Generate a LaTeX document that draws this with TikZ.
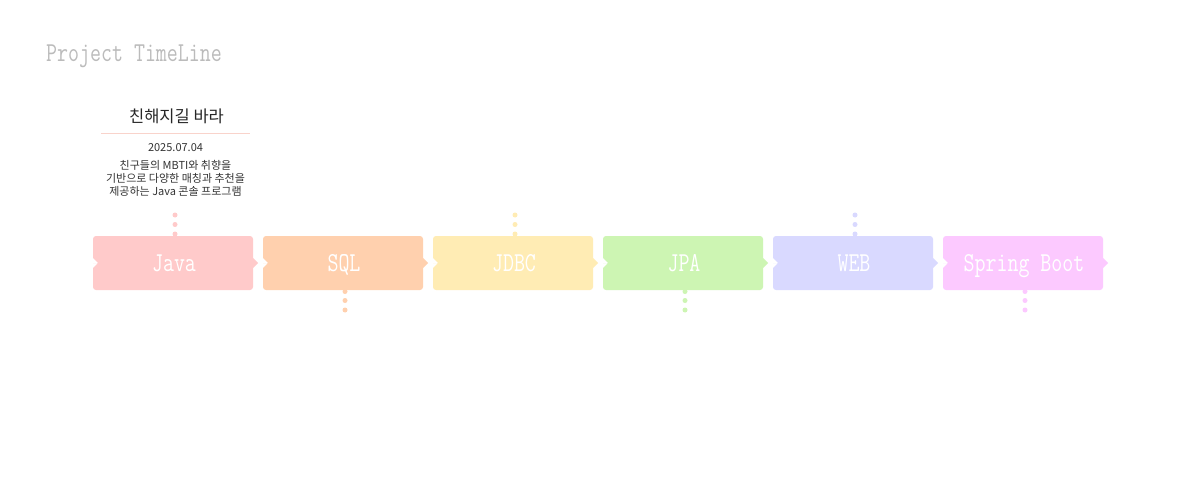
\documentclass[tikz,border=0pt]{standalone}
\usepackage{fontspec}
\newfontfamily\kr{Noto Sans CJK KR}
\definecolor{titlegray}{HTML}{BBBBBB}
\definecolor{cjava}{HTML}{FFCACA}
\definecolor{csql}{HTML}{FFD0AE}
\definecolor{cjdbc}{HTML}{FFECB4}
\definecolor{cjpa}{HTML}{CDF5B3}
\definecolor{cweb}{HTML}{D9D9FF}
\definecolor{cspring}{HTML}{FCC9FF}
\definecolor{linepink}{HTML}{F9D3CB}
\definecolor{txt}{HTML}{333333}
\newcommand{\slab}[1]{\scalebox{0.82}[1.05]{\fontsize{26}{26}\selectfont\ttfamily #1}}
\begin{document}
\begin{tikzpicture}[x=1pt,y=-1pt,
  stagebox/.style={minimum width=160pt,minimum height=54pt,inner sep=0pt,text=white},
  stagedot/.style={circle,inner sep=0pt,minimum size=5pt}]
\useasboundingbox (0,0) rectangle (1200,500);
\fill[white] (0,0) rectangle (1200,500);

\node[anchor=base west,text=titlegray,inner sep=0pt] (title) at (46,62) {\slab{Project TimeLine}};

% stage boxes
\foreach \nm/\col/\x/\lbl in {java/cjava/93/Java, sql/csql/263/SQL, jdbc/cjdbc/433/JDBC, jpa/cjpa/603/JPA, web/cweb/773/WEB, spring/cspring/943/Spring Boot}{
  \fill[\col,rounded corners=3pt] (\x,263) [sharp corners]-- (\x+5,263) -- (\x,258) [rounded corners=3pt]-- (\x,236) -- (\x+160,236) [sharp corners]-- (\x+160,258) -- (\x+165,263) -- (\x+160,268) [rounded corners=3pt]-- (\x+160,290) -- (\x,290) [sharp corners]-- (\x,268) -- (\x+5,263) -- cycle;
  \node[stagebox,anchor=north west] (\nm) at (\x,236) {};
  \node[anchor=base,text=white,inner sep=0pt] (\nm-label) at (\x+81,271) {\slab{\lbl}};
}

% dots above
\foreach \nm/\col/\xx in {java/cjava/175, jdbc/cjdbc/515, web/cweb/855}{
  \node[stagedot,fill=\col] (\nm-d1) at (\xx,215) {};
  \node[stagedot,fill=\col] (\nm-d2) at (\xx,224.5) {};
  \node[stagedot,fill=\col] (\nm-d3) at (\xx,234) {};
}
% dots below
\foreach \nm/\col/\xx in {sql/csql/345, jpa/cjpa/685, spring/cspring/1025}{
  \node[stagedot,fill=\col] (\nm-d1) at (\xx,291.5) {};
  \node[stagedot,fill=\col] (\nm-d2) at (\xx,300.5) {};
  \node[stagedot,fill=\col] (\nm-d3) at (\xx,310) {};
}

% project info card
\node[text=black!85,inner sep=0pt,font={\kr\fontsize{16.5}{17}\selectfont}] (ptitle) at (176.5,116) {친해지길 바라};
\coordinate (lineL) at (101,134);
\coordinate (lineR) at (250,134);
\draw[linepink,line width=1pt] (lineL) -- (lineR);
\node[text=txt,inner sep=0pt,font={\kr\fontsize{11}{12}\selectfont}] (pdate) at (175.5,148) {2025.07.04};
\node[text=txt,inner sep=0pt,align=center,font={\kr\fontsize{11}{13}\selectfont}] (pdesc) at (175.5,178) {친구들의 MBTI와 취향을\\기반으로 다양한 매칭과 추천을\\제공하는 Java 콘솔 프로그램};
\end{tikzpicture}
\end{document}
